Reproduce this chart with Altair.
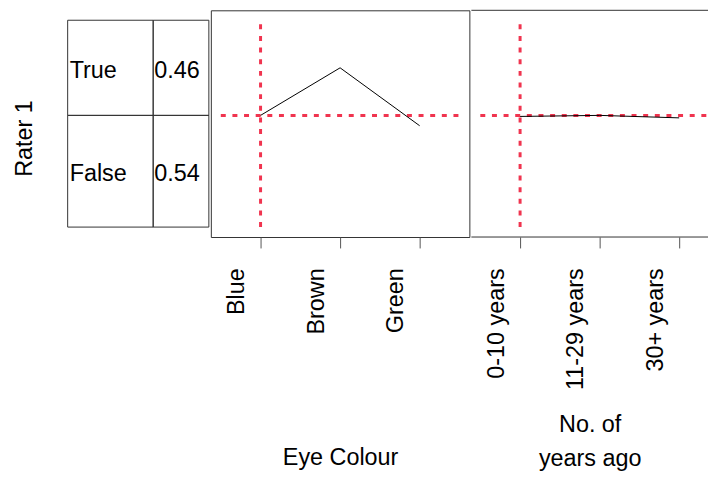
import json
import altair as alt
import pandas as pd

# ---- data ----
rater_levels = ["True", "False"]
rater_probs = [0.46, 0.54]

eye_levels = ["Blue", "Brown", "Green"]
eye_values = [0.54, 0.77, 0.49]

years_levels = ["0-10 years", "11-29 years", "30+ years"]
years_values = [0.535, 0.54, 0.528]

reference_level = 0.54   # horizontal reference line
reference_index = 1      # vertical reference line at first category

# ---- style ----
FONT = "Liberation Sans"
FS = 23.5
RED = "#F0344F"
FRAME = "#333333"
TICK = "#555555"
H = 228
STEP = 80
W1 = 260
W2 = 238
TABLE_W = 142
LABEL_W = 86

yscale = alt.Scale(domain=[-0.048, 1.048], nice=False, zero=False)

# ---- table ----
rows = []
top = 1.0
for lvl, p in zip(rater_levels, rater_probs):
    rows.append({"level": lvl, "prob": f"{p:.2f}", "y1": top, "y0": top - p, "mid": top - p / 2})
    top -= p
table_df = pd.DataFrame(rows)

yaxis_t = alt.Axis(title="Rater 1", labels=False, ticks=False, domain=False, grid=False,
                   titlePadding=31.5, titleY=128.5)

base_t = alt.Chart(table_df)
cell_l = base_t.mark_rect(fillOpacity=0, stroke=FRAME, strokeWidth=1).encode(
    x=alt.value(0), x2=alt.value(LABEL_W),
    y=alt.Y("y0:Q", scale=yscale, axis=yaxis_t), y2="y1:Q")
cell_r = base_t.mark_rect(fillOpacity=0, stroke=FRAME, strokeWidth=1).encode(
    x=alt.value(LABEL_W), x2=alt.value(TABLE_W),
    y=alt.Y("y0:Q", scale=yscale, axis=yaxis_t), y2="y1:Q")
txt_l = base_t.mark_text(align="left", baseline="alphabetic", dy=10, font=FONT,
                         fontSize=FS, color="black").encode(
    x=alt.value(2), y=alt.Y("mid:Q", scale=yscale, axis=yaxis_t), text="level:N")
txt_r = base_t.mark_text(align="left", baseline="alphabetic", dy=10, font=FONT,
                         fontSize=FS, color="black").encode(
    x=alt.value(LABEL_W + 1), y=alt.Y("mid:Q", scale=yscale, axis=yaxis_t), text="prob:N")

table = alt.layer(cell_l, cell_r, txt_l, txt_r).properties(
    width=TABLE_W, height=H, view=alt.ViewBackground(strokeWidth=0))


def panel(levels, values, width, x0, title, title_y, framed):
    n = len(levels)
    x_max = x0 + width / STEP
    df = pd.DataFrame({"idx": list(range(1, n + 1)), "value": values})
    xscale = alt.Scale(domain=[x0, x_max], nice=False, zero=False)
    xaxis = alt.Axis(values=list(range(1, n + 1)),
                     labelExpr=json.dumps(levels) + "[datum.value - 1]",
                     title=title, titleY=title_y, titleBaseline="alphabetic",
                     titleLineHeight=34,
                     labelAngle=270, labelAlign="right", labelBaseline="middle",
                     labelPadding=20, labelOffset=-24, labelFlush=False, labelOverlap=False,
                     grid=False, domain=False, ticks=True, tickSize=11, tickColor=TICK,
                     tickWidth=1)
    hdf = pd.DataFrame({"x": [0.5], "x2": [min(n + 0.5, x_max)], "y": [reference_level]})
    vdf = pd.DataFrame({"x": [reference_index], "y": [0.0], "y2": [1.0]})
    hline = alt.Chart(hdf).mark_rule(color=RED, strokeWidth=3, strokeDash=[5, 6.7]).encode(
        x=alt.X("x:Q", scale=xscale, axis=xaxis), x2="x2:Q",
        y=alt.Y("y:Q", scale=yscale, axis=None))
    vline = alt.Chart(vdf).mark_rule(color=RED, strokeWidth=3, strokeDash=[5, 6.7]).encode(
        x=alt.X("x:Q", scale=xscale, axis=xaxis),
        y=alt.Y("y:Q", scale=yscale, axis=None), y2="y2:Q")
    line = alt.Chart(df).mark_line(color="black", strokeWidth=1).encode(
        x=alt.X("idx:Q", scale=xscale, axis=xaxis),
        y=alt.Y("value:Q", scale=yscale, axis=None))
    layers = [hline, vline, line]
    if framed:
        view = alt.ViewBackground(stroke=FRAME, strokeWidth=1)
    else:
        view = alt.ViewBackground(strokeWidth=0)
        one = pd.DataFrame({"k": [0]})
        top_rule = alt.Chart(one).mark_rule(color=FRAME, strokeWidth=1).encode(
            x=alt.value(0), x2=alt.value(width), y=alt.value(0))
        bot_rule = alt.Chart(one).mark_rule(color=FRAME, strokeWidth=1).encode(
            x=alt.value(0), x2=alt.value(width), y=alt.value(H))
        layers += [top_rule, bot_rule]
    return alt.layer(*layers).properties(width=width, height=H, view=view)


p1 = panel(eye_levels, eye_values, W1, 0.375, "Eye Colour", 229, True)
p2 = panel(years_levels, years_values, W2, 0.3875, ["No. of", "years ago"], 196, False)

chart = alt.hconcat(table, p1, p2, spacing=0).properties(
    padding={"left": 4, "top": 0, "right": 0, "bottom": 0},
).configure_axis(
    labelFont=FONT, titleFont=FONT, labelFontSize=FS, titleFontSize=FS,
    labelColor="black", titleColor="black", titleFontWeight="normal"
).configure_view(strokeWidth=0)

chart.save("out.html", embed_options={"renderer": "svg", "actions": False})
